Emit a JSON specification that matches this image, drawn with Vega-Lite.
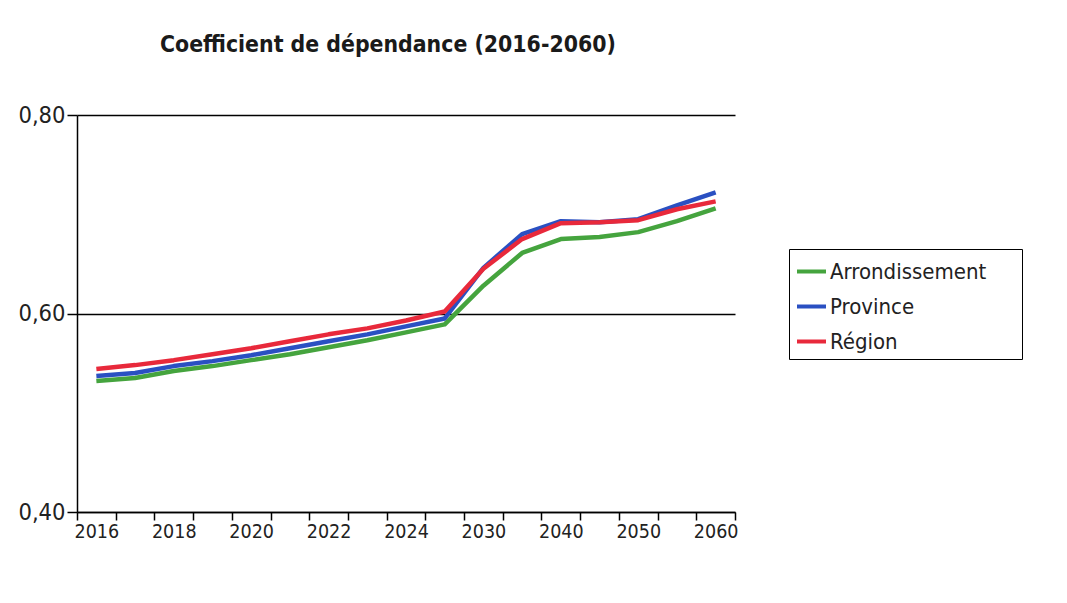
{
  "$schema": "https://vega.github.io/schema/vega-lite/v6.json",
  "width": 658,
  "height": 397,
  "autosize": {"type": "none"},
  "padding": {"left": 77, "top": 115, "right": 332, "bottom": 91},
  "background": "white",
  "title": {
    "text": "Coefficient de dépendance (2016-2060)",
    "anchor": "start",
    "frame": "group",
    "dx": 83,
    "font": "DejaVu Sans Condensed, DejaVu Sans, sans-serif",
    "fontWeight": "bold",
    "fontSize": 22.8,
    "color": "#1a1a1a",
    "offset": 46
  },
  "data": {
    "values": [
      {"annee": "2016", "serie": "Arrondissement", "valeur": 0.532},
      {"annee": "2017", "serie": "Arrondissement", "valeur": 0.535},
      {"annee": "2018", "serie": "Arrondissement", "valeur": 0.542},
      {"annee": "2019", "serie": "Arrondissement", "valeur": 0.547},
      {"annee": "2020", "serie": "Arrondissement", "valeur": 0.553},
      {"annee": "2021", "serie": "Arrondissement", "valeur": 0.559},
      {"annee": "2022", "serie": "Arrondissement", "valeur": 0.566},
      {"annee": "2023", "serie": "Arrondissement", "valeur": 0.573},
      {"annee": "2024", "serie": "Arrondissement", "valeur": 0.581},
      {"annee": "2025", "serie": "Arrondissement", "valeur": 0.589},
      {"annee": "2030", "serie": "Arrondissement", "valeur": 0.628},
      {"annee": "2035", "serie": "Arrondissement", "valeur": 0.661},
      {"annee": "2040", "serie": "Arrondissement", "valeur": 0.675},
      {"annee": "2045", "serie": "Arrondissement", "valeur": 0.677},
      {"annee": "2050", "serie": "Arrondissement", "valeur": 0.682},
      {"annee": "2055", "serie": "Arrondissement", "valeur": 0.693},
      {"annee": "2060", "serie": "Arrondissement", "valeur": 0.706},
      {"annee": "2016", "serie": "Province", "valeur": 0.537},
      {"annee": "2017", "serie": "Province", "valeur": 0.540},
      {"annee": "2018", "serie": "Province", "valeur": 0.547},
      {"annee": "2019", "serie": "Province", "valeur": 0.552},
      {"annee": "2020", "serie": "Province", "valeur": 0.558},
      {"annee": "2021", "serie": "Province", "valeur": 0.565},
      {"annee": "2022", "serie": "Province", "valeur": 0.572},
      {"annee": "2023", "serie": "Province", "valeur": 0.579},
      {"annee": "2024", "serie": "Province", "valeur": 0.587},
      {"annee": "2025", "serie": "Province", "valeur": 0.595},
      {"annee": "2030", "serie": "Province", "valeur": 0.646},
      {"annee": "2035", "serie": "Province", "valeur": 0.680},
      {"annee": "2040", "serie": "Province", "valeur": 0.693},
      {"annee": "2045", "serie": "Province", "valeur": 0.692},
      {"annee": "2050", "serie": "Province", "valeur": 0.695},
      {"annee": "2055", "serie": "Province", "valeur": 0.709},
      {"annee": "2060", "serie": "Province", "valeur": 0.722},
      {"annee": "2016", "serie": "Région", "valeur": 0.544},
      {"annee": "2017", "serie": "Région", "valeur": 0.548},
      {"annee": "2018", "serie": "Région", "valeur": 0.553},
      {"annee": "2019", "serie": "Région", "valeur": 0.559},
      {"annee": "2020", "serie": "Région", "valeur": 0.565},
      {"annee": "2021", "serie": "Région", "valeur": 0.572},
      {"annee": "2022", "serie": "Région", "valeur": 0.579},
      {"annee": "2023", "serie": "Région", "valeur": 0.585},
      {"annee": "2024", "serie": "Région", "valeur": 0.593},
      {"annee": "2025", "serie": "Région", "valeur": 0.602},
      {"annee": "2030", "serie": "Région", "valeur": 0.645},
      {"annee": "2035", "serie": "Région", "valeur": 0.675},
      {"annee": "2040", "serie": "Région", "valeur": 0.691},
      {"annee": "2045", "serie": "Région", "valeur": 0.692},
      {"annee": "2050", "serie": "Région", "valeur": 0.694},
      {"annee": "2055", "serie": "Région", "valeur": 0.705},
      {"annee": "2060", "serie": "Région", "valeur": 0.713}
    ]
  },
  "mark": {"type": "line", "strokeWidth": 4.5, "strokeJoin": "round"},
  "encoding": {
    "x": {
      "field": "annee",
      "type": "ordinal",
      "sort": "ascending",
      "bandPosition": 0.5,
      "scale": {"type": "band", "paddingInner": 0, "paddingOuter": 0},
      "axis": {
        "title": null,
        "tickBand": "extent",
        "labelAngle": 0,
        "labelExpr": "indexof(['2016','2018','2020','2022','2024','2030','2040','2050','2060'], datum.label) >= 0 ? datum.label : ''",
        "labelFont": "DejaVu Sans Condensed, DejaVu Sans, sans-serif",
        "labelFontSize": 19.5,
        "labelColor": "#222222",
        "labelPadding": 2,
        "domainColor": "black",
        "domainWidth": 1.5,
        "tickColor": "black",
        "tickWidth": 1.5,
        "tickSize": 8,
        "grid": false
      }
    },
    "y": {
      "field": "valeur",
      "type": "quantitative",
      "scale": {"domain": [0.4, 0.8], "nice": false, "zero": false},
      "axis": {
        "title": null,
        "values": [0.4, 0.6, 0.8],
        "labelExpr": "replace(format(datum.value, '.2f'), '.', ',')",
        "labelFont": "DejaVu Sans Condensed, DejaVu Sans, sans-serif",
        "labelFontSize": 23.5,
        "labelColor": "#222222",
        "labelPadding": 2,
        "domainColor": "black",
        "domainWidth": 1.5,
        "tickColor": "black",
        "tickWidth": 1.5,
        "tickSize": 10,
        "grid": true,
        "gridColor": "black",
        "gridWidth": 1.5,
        "gridOpacity": 1
      }
    },
    "color": {
      "field": "serie",
      "type": "nominal",
      "scale": {
        "domain": ["Arrondissement", "Province", "Région"],
        "range": ["#45a43e", "#2a50c2", "#e8293b"]
      },
      "legend": {
        "orient": "none",
        "legendX": 712,
        "legendY": 134,
        "title": null,
        "strokeColor": "black",
        "fillColor": "white",
        "padding": 6,
        "symbolType": "stroke",
        "symbolSize": 841,
        "symbolStrokeWidth": 4,
        "labelFont": "DejaVu Sans Condensed, DejaVu Sans, sans-serif",
        "labelFontSize": 22,
        "labelColor": "#222222",
        "labelOffset": 2,
        "labelLimit": 400,
        "rowPadding": 7,
        "labelExpr": "datum.label + '\u2002\u2002\u2002\u200b'"
      }
    }
  },
  "config": {"view": {"stroke": null}}
}
